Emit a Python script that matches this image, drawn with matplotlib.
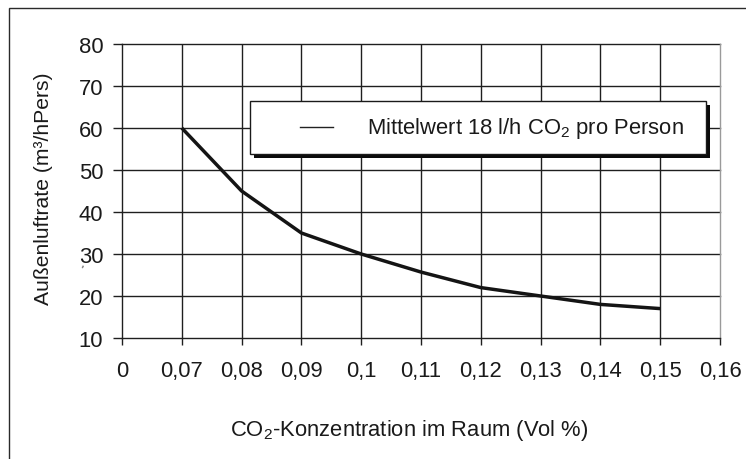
import matplotlib
matplotlib.use("Agg")
import matplotlib.pyplot as plt
from matplotlib.patches import Rectangle
from matplotlib.lines import Line2D

# ---- data ----
x_tick_labels = ["0", "0,07", "0,08", "0,09", "0,1", "0,11", "0,12", "0,13", "0,14", "0,15", "0,16"]
concentration = ["0,07", "0,08", "0,09", "0,1", "0,11", "0,12", "0,13", "0,14", "0,15"]
outdoor_air = [60, 45, 35, 30, 25.7, 22, 20, 18, 17]
y_ticks = [10, 20, 30, 40, 50, 60, 70, 80]
series_label = r"Mittelwert 18 l/h CO$_\mathregular{2}$ pro Person"
x_title = r"CO$_\mathregular{2}$-Konzentration im Raum (Vol %)"
y_title = "Außenluftrate (m³/hPers)"

plt.rcParams["font.family"] = ["Liberation Sans", "DejaVu Sans"]
plt.rcParams["mathtext.fontset"] = "custom"
plt.rcParams["mathtext.rm"] = "Liberation Sans"
plt.rcParams["mathtext.it"] = "Liberation Sans"
plt.rcParams["mathtext.bf"] = "Liberation Sans"

W, H = 746, 460
fig = plt.figure(figsize=(W / 100, H / 100), dpi=100)
fig.patch.set_facecolor("white")

# outer frame
fig.patches.append(Rectangle((9 / W, -0.2), 1.5, 1.2 - 9 / H, transform=fig.transFigure,
                             fill=False, edgecolor="#2a2a2a", linewidth=1.0))

ax_l, ax_r, ax_t, ax_b = 122, 720, 45, 339
ax = fig.add_axes([ax_l / W, 1 - ax_b / H, (ax_r - ax_l) / W, (ax_b - ax_t) / H])

txt_color = "#1a1a1a"
grid_color = "#1f1f1f"
fs = 15.8

xpos = [x_tick_labels.index(c) for c in concentration]
ax.plot(xpos, outdoor_air, color="#141414", linewidth=2.5, solid_capstyle="butt",
        solid_joinstyle="round", zorder=5)

ax.set_xlim(0, len(x_tick_labels) - 1)
ax.set_ylim(y_ticks[0], y_ticks[-1])
ax.set_xticks(range(len(x_tick_labels)))
ax.set_xticklabels(x_tick_labels)
ax.set_yticks(y_ticks)

# grid
for i in range(1, len(x_tick_labels) - 1):
    ax.axvline(i, color=grid_color, linewidth=1.0, zorder=1)
for v in y_ticks[1:]:
    ax.axhline(v, color=grid_color, linewidth=1.0, zorder=1, clip_on=False)

ax.spines["top"].set_visible(False)
ax.spines["right"].set_color("#9a9a9a")
ax.spines["right"].set_linewidth(1.0)
for s in ["left", "bottom"]:
    ax.spines[s].set_color(grid_color)
    ax.spines[s].set_linewidth(1.0)

ax.tick_params(axis="x", direction="out", length=5, width=1.0, color=grid_color,
               pad=11, labelsize=fs, labelcolor=txt_color)
ax.tick_params(axis="y", direction="out", length=6.5, width=1.0, color=grid_color,
               pad=7, labelsize=fs, labelcolor=txt_color)

# legend box (manual, with drop shadow)
def ax_x(px):
    return (px - ax_l) / (ax_r - ax_l)

def ax_y(py):
    return (ax_b - py) / (ax_b - ax_t)

lx0, lx1, ly0, ly1 = 250, 706, 102, 155
sh = 4
ax.add_patch(Rectangle((ax_x(lx0 + sh), ax_y(ly1 + sh)), ax_x(lx1) - ax_x(lx0),
                       ax_y(ly0) - ax_y(ly1), transform=ax.transAxes,
                       facecolor="#0a0a0a", edgecolor="none", zorder=8, clip_on=False))
ax.add_patch(Rectangle((ax_x(lx0), ax_y(ly1)), ax_x(lx1) - ax_x(lx0),
                       ax_y(ly0) - ax_y(ly1), transform=ax.transAxes,
                       facecolor="white", edgecolor="#1a1a1a", linewidth=1.0, zorder=9, clip_on=False))
ax.add_line(Line2D([ax_x(300), ax_x(333)], [ax_y(128), ax_y(128)], transform=ax.transAxes,
                   color="#222222", linewidth=1.0, zorder=10))
ax.text(ax_x(367), ax_y(129), series_label, transform=ax.transAxes, ha="left", va="center",
        fontsize=fs, color=txt_color, zorder=10)

# axis titles
fig.text(409 / W, 1 - 431 / H, x_title, ha="center", va="center", fontsize=fs, color=txt_color)
fig.text(44 / W, 1 - 189 / H, y_title, ha="center", va="center", rotation=90,
         fontsize=15.2, color=txt_color)
fig.text(80 / W, 1 - 270 / H, "'", ha="center", va="center", rotation=-20,
         fontsize=9, color="#555555")

fig.savefig("out.png", dpi=100, facecolor="white")
